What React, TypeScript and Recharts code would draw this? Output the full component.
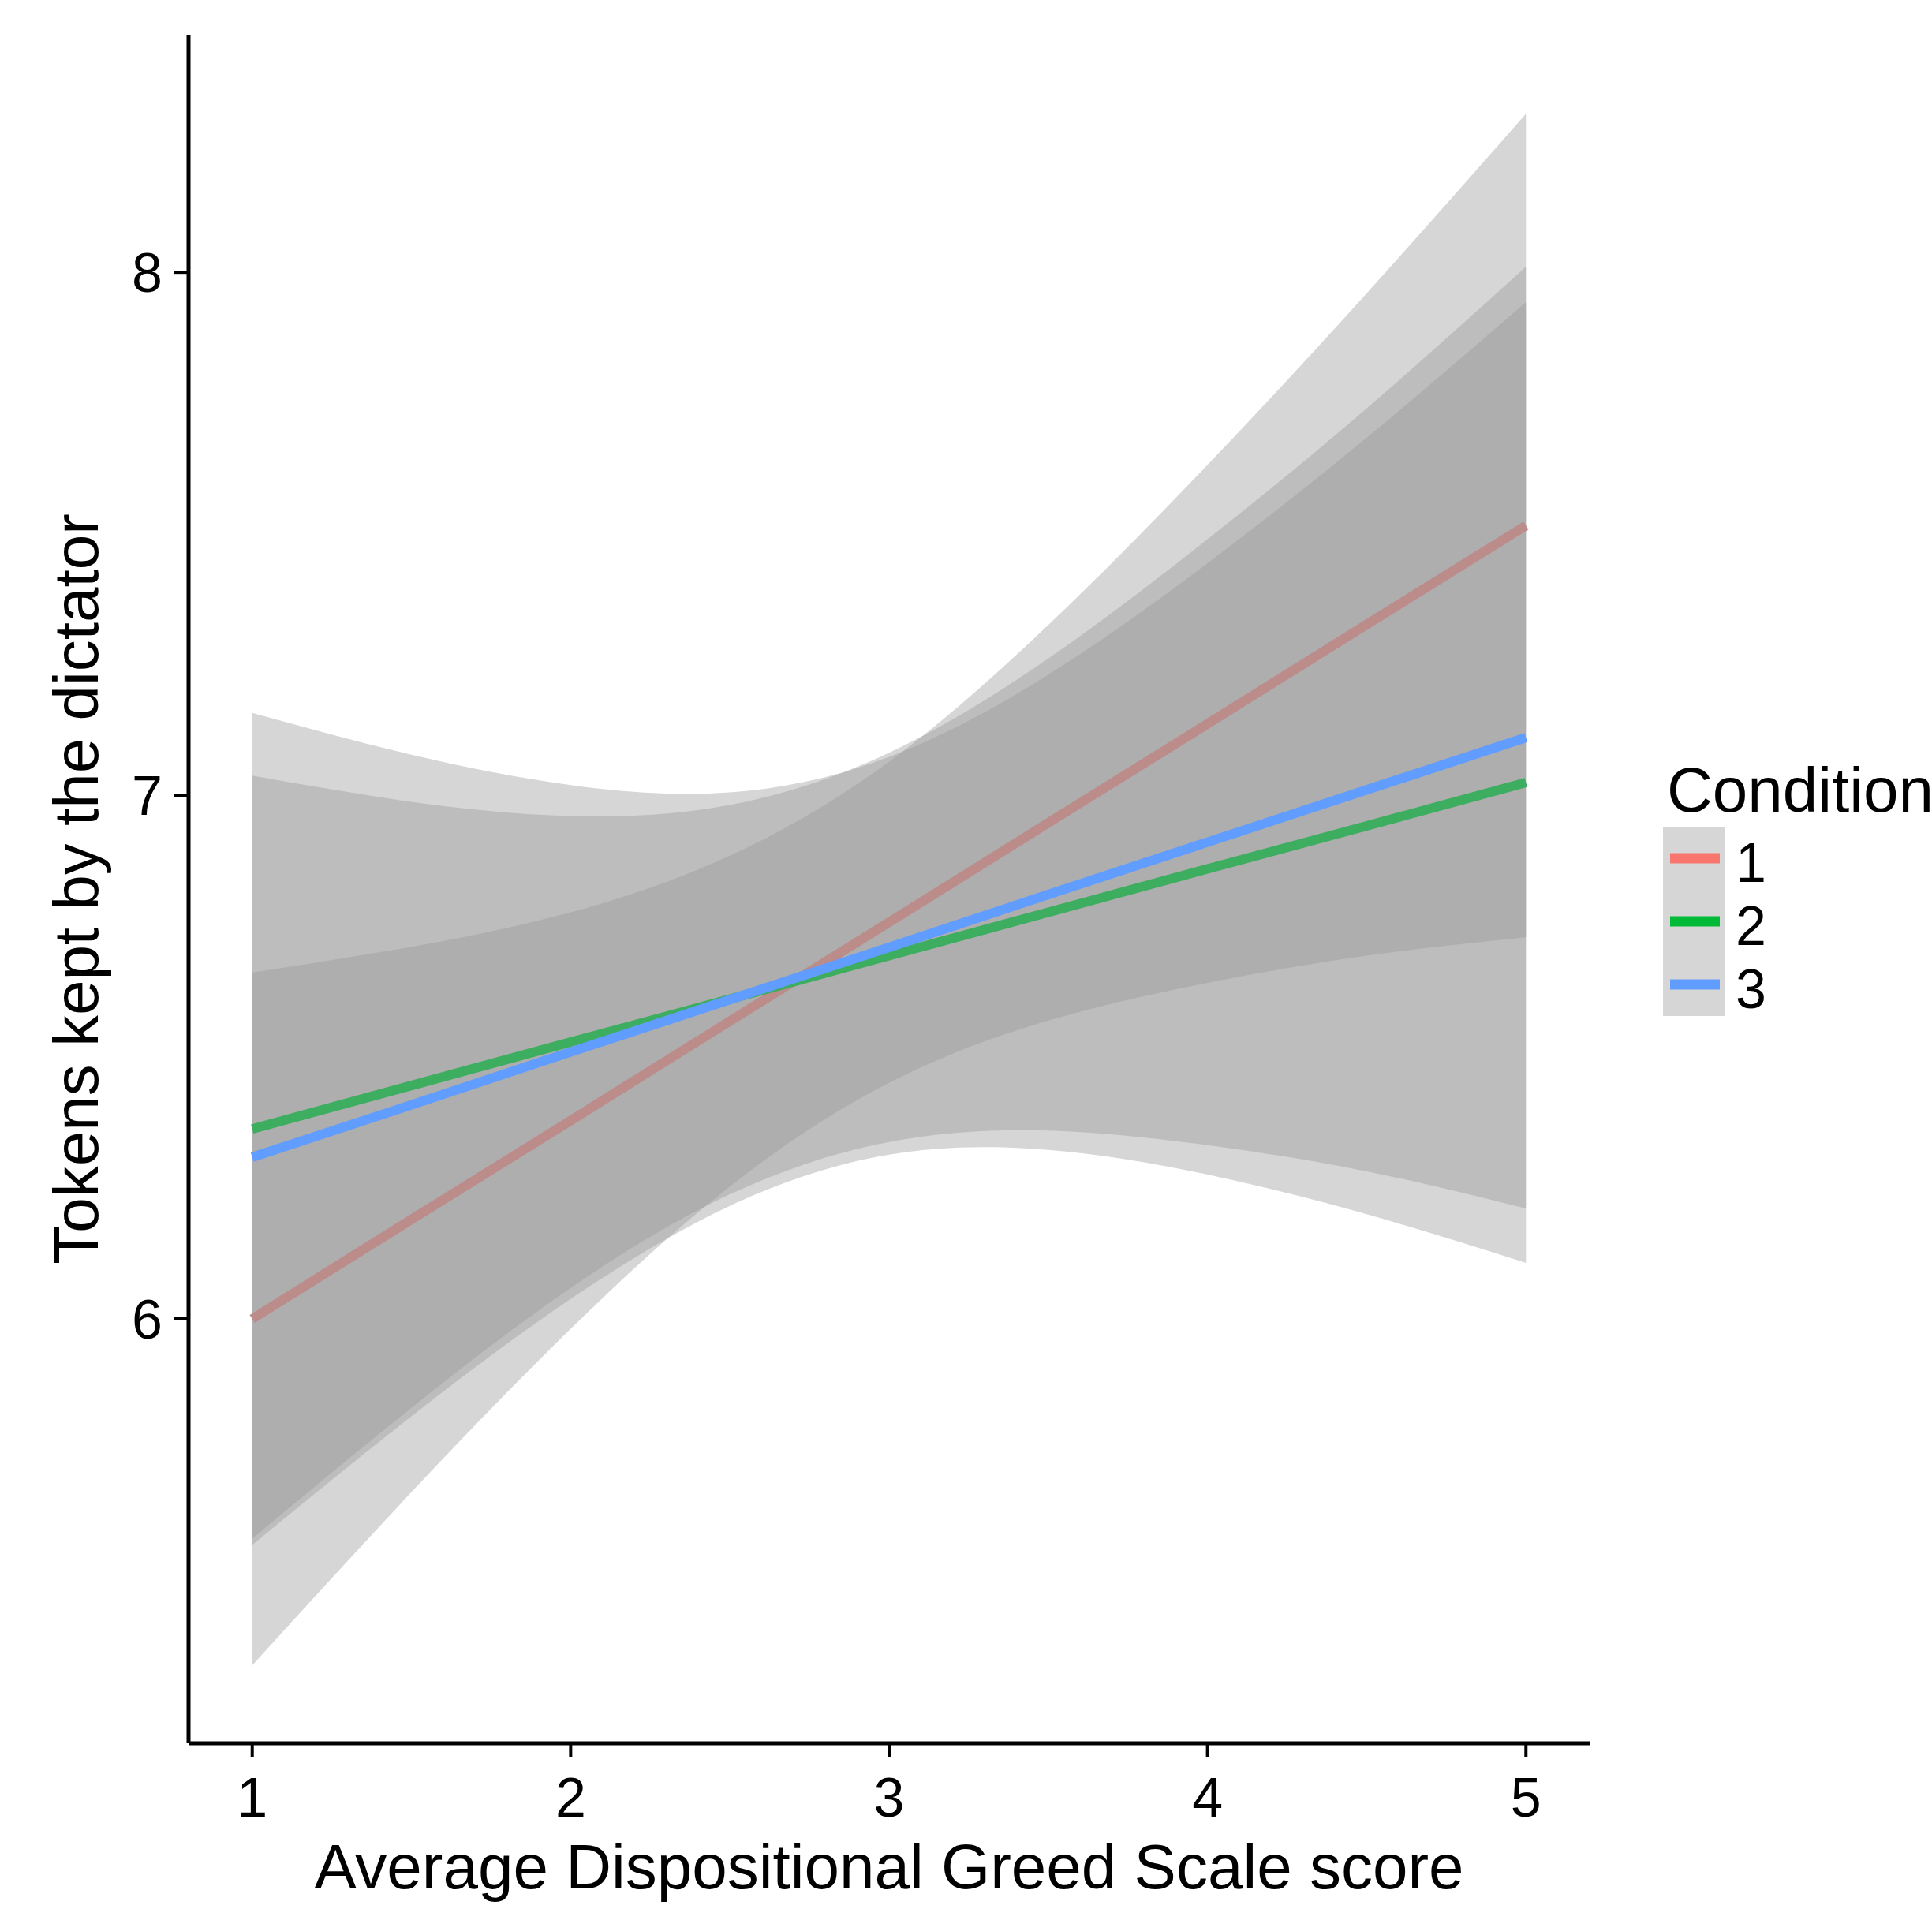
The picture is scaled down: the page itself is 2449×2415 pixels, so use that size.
import { ComposedChart, Area, Line, XAxis, YAxis, Label } from "recharts";

// x positions (Average Dispositional Greed Scale score)
const xs = [1, 1.5, 2, 2.5, 3, 3.5, 4, 4.5, 5];

// Condition 1 (red): fitted line + confidence band
const fit1 = [6.0, 6.19, 6.379, 6.569, 6.758, 6.948, 7.137, 7.327, 7.516];
const lo1 = [5.338, 5.669, 5.981, 6.253, 6.451, 6.57, 6.642, 6.694, 6.729];
const hi1 = [6.662, 6.711, 6.777, 6.885, 7.065, 7.326, 7.632, 7.96, 8.303];

// Condition 2 (green)
const fit2 = [6.363, 6.446, 6.529, 6.611, 6.694, 6.777, 6.86, 6.942, 7.025];
const lo2 = [5.568, 5.814, 6.038, 6.216, 6.314, 6.323, 6.276, 6.2, 6.107];
const hi2 = [7.158, 7.078, 7.02, 7.006, 7.074, 7.231, 7.444, 7.684, 7.943];

// Condition 3 (blue)
const fit3 = [6.309, 6.409, 6.51, 6.61, 6.71, 6.811, 6.911, 7.011, 7.111];
const lo3 = [5.58, 5.83, 6.059, 6.238, 6.338, 6.36, 6.332, 6.282, 6.211];
const hi3 = [7.038, 6.988, 6.961, 6.982, 7.082, 7.262, 7.49, 7.74, 8.011];

const conditions = ["1", "2", "3"];
const colors = ["#F8766D", "#00BA38", "#619CFF"];
// in the plot, earlier lines sit under the later ribbons, so they look muted
const plotLineColors = ["#BB8C89", "#3DAD5F", "#619CFF"];
const xTicks = [1, 2, 3, 4, 5];
const yTicks = [6, 7, 8];

const data = xs.map((x, i) => ({
  x,
  band1: [lo1[i], hi1[i]],
  band2: [lo2[i], hi2[i]],
  band3: [lo3[i], hi3[i]],
  fit1: fit1[i],
  fit2: fit2[i],
  fit3: fit3[i],
}));

const FONT = "'Liberation Sans', Arial, sans-serif";
const RIBBON = "#999999";

function ConditionLegend() {
  return (
    <svg width={360} height={360} style={{ position: "absolute", left: 2090, top: 950 }}>
      <g transform="translate(-2090 -950)" fontFamily={FONT}>
        <text x={2113} y={1029} fontSize={80} fill="#000">Condition</text>
        {conditions.map((c, i) => {
          const cy = 1088 + i * 80;
          return (
            <g key={c}>
              <rect x={2108} y={cy - 40} width={79} height={80} fill={RIBBON} fillOpacity={0.4} />
              <line x1={2117} x2={2180} y1={cy} y2={cy} stroke={colors[i]} strokeWidth={13} />
              <text x={2200} y={cy + 30} fontSize={70} fill="#000">{c}</text>
            </g>
          );
        })}
      </g>
    </svg>
  );
}

export default function App() {
  return (
    <div style={{ position: "relative", width: 2449, height: 2415, background: "#fff", fontFamily: FONT }}>
      <style>{"body{margin:0}"}</style>
      <ComposedChart width={2449} height={2415} data={data} margin={{ top: 44, right: 434, left: 0, bottom: 0 }}>
        <XAxis
          type="number"
          dataKey="x"
          domain={[0.8, 5.2]}
          ticks={xTicks}
          allowDataOverflow
          height={205}
          axisLine={{ stroke: "#000", strokeWidth: 5 }}
          tickLine={{ stroke: "#000", strokeWidth: 4 }}
          tickSize={18}
          tickMargin={25}
          tick={{ fill: "#000", fontSize: 70, fontFamily: FONT }}
        >
          <Label
            content={() => (
              <text x={1127} y={2394} textAnchor="middle" fontSize={80} fontFamily={FONT} fill="#000">
                Average Dispositional Greed Scale score
              </text>
            )}
          />
        </XAxis>
        <YAxis
          type="number"
          domain={[5.189, 8.454]}
          ticks={yTicks}
          allowDataOverflow
          width={239}
          axisLine={{ stroke: "#000", strokeWidth: 5 }}
          tickLine={{ stroke: "#000", strokeWidth: 4 }}
          tickSize={18}
          tickMargin={15}
          tick={{ fill: "#000", fontSize: 70, fontFamily: FONT }}
        >
          <Label
            content={() => (
              <text x={124} y={1127} transform="rotate(-90 124 1127)" textAnchor="middle" fontSize={80} fontFamily={FONT} fill="#000">
                Tokens kept by the dictator
              </text>
            )}
          />
        </YAxis>

        <Area type="natural" dataKey="band1" stroke="none" fill={RIBBON} fillOpacity={0.4} isAnimationActive={false} dot={false} activeDot={false} />
        <Line type="linear" dataKey="fit1" stroke={plotLineColors[0]} strokeWidth={12} dot={false} activeDot={false} isAnimationActive={false} />
        <Area type="natural" dataKey="band2" stroke="none" fill={RIBBON} fillOpacity={0.4} isAnimationActive={false} dot={false} activeDot={false} />
        <Line type="linear" dataKey="fit2" stroke={plotLineColors[1]} strokeWidth={12} dot={false} activeDot={false} isAnimationActive={false} />
        <Area type="natural" dataKey="band3" stroke="none" fill={RIBBON} fillOpacity={0.4} isAnimationActive={false} dot={false} activeDot={false} />
        <Line type="linear" dataKey="fit3" stroke={plotLineColors[2]} strokeWidth={12} dot={false} activeDot={false} isAnimationActive={false} />
      </ComposedChart>
      <ConditionLegend />
    </div>
  );
}
